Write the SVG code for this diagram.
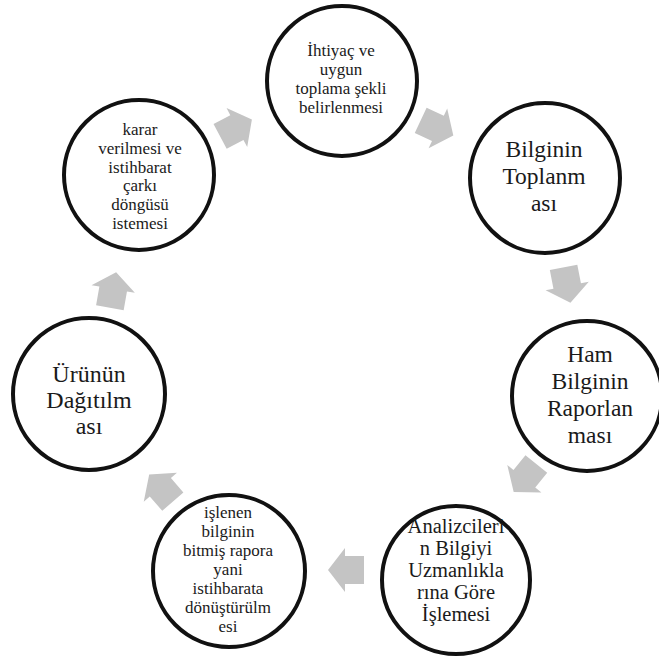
<svg xmlns="http://www.w3.org/2000/svg" width="659" height="656" viewBox="0 0 659 656">
<defs>
<style>
.node circle{fill:#fff;stroke:#111;stroke-width:4}
.node text{font-family:"Liberation Serif","Times New Roman",serif;fill:#1a1a1a;text-anchor:middle}
.s{font-size:17px}
.m{font-size:20.5px}
.l{font-size:23.5px}
.xl{font-size:24px}
.arr{fill:#c4c4c4}
</style>
<polygon id="ar" points="-18,-14 1,-14 1,-22 18,0 1,22 1,14 -18,14"/>
</defs>
<rect width="659" height="656" fill="#fff"/>
<g id="connectors" class="arr">
<use href="#ar" transform="translate(437,128) rotate(25)"/>
<use href="#ar" transform="translate(567,285) rotate(79)"/>
<use href="#ar" transform="translate(525,478) rotate(129)"/>
<use href="#ar" transform="translate(346,570) rotate(180)"/>
<use href="#ar" transform="translate(161,488) rotate(229)"/>
<use href="#ar" transform="translate(113,290) rotate(-80)"/>
<use href="#ar" transform="translate(236,128) rotate(-28)"/>
</g>
<g id="n1" class="node">
<circle cx="342" cy="81" r="75"/>
<text class="s" x="341" y="56">İhtiyaç ve</text>
<text class="s" x="341" y="75">uygun</text>
<text class="s" x="341" y="94">toplama şekli</text>
<text class="s" x="341" y="113">belirlenmesi</text>
</g>
<g id="n2" class="node">
<circle cx="545" cy="178" r="75"/>
<text class="l" x="544" y="157">Bilginin</text>
<text class="l" x="544" y="184">Toplanm</text>
<text class="l" x="544" y="211">ası</text>
</g>
<g id="n3" class="node">
<circle cx="587" cy="396" r="75"/>
<text class="l" x="590" y="362">Ham</text>
<text class="l" x="590" y="389">Bilginin</text>
<text class="l" x="590" y="416">Raporlan</text>
<text class="l" x="590" y="443">ması</text>
</g>
<g id="n4" class="node">
<circle cx="456" cy="580" r="74"/>
<text class="m" x="456" y="533">Analizcileri</text>
<text class="m" x="456" y="555">n Bilgiyi</text>
<text class="m" x="456" y="577">Uzmanlıkla</text>
<text class="m" x="456" y="599">rına Göre</text>
<text class="m" x="456" y="621">İşlemesi</text>
</g>
<g id="n5" class="node">
<circle cx="229" cy="571" r="76"/>
<text class="s" x="228" y="518">işlenen</text>
<text class="s" x="228" y="537">bilginin</text>
<text class="s" x="228" y="556">bitmiş rapora</text>
<text class="s" x="228" y="575">yani</text>
<text class="s" x="228" y="594">istihbarata</text>
<text class="s" x="228" y="613">dönüştürülm</text>
<text class="s" x="228" y="632">esi</text>
</g>
<g id="n6" class="node">
<circle cx="89" cy="394" r="76"/>
<text class="xl" x="89" y="382">Ürünün</text>
<text class="xl" x="89" y="408">Dağıtılm</text>
<text class="xl" x="89" y="434">ası</text>
</g>
<g id="n7" class="node">
<circle cx="139" cy="175" r="75"/>
<text class="s" x="140" y="135">karar</text>
<text class="s" x="140" y="154">verilmesi ve</text>
<text class="s" x="140" y="173">istihbarat</text>
<text class="s" x="140" y="191">çarkı</text>
<text class="s" x="140" y="210">döngüsü</text>
<text class="s" x="140" y="229">istemesi</text>
</g>
</svg>
